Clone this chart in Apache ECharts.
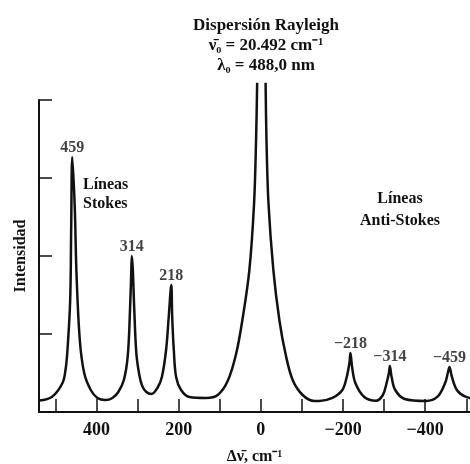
<!DOCTYPE html>
<html>
<head>
<meta charset="utf-8">
<script src="https://cdn.jsdelivr.net/npm/echarts@6/dist/echarts.min.js"></script>
<style>
  html, body { margin: 0; padding: 0; background: #fff; }
  #chart { width: 470px; height: 464px; }
</style>
</head>
<body>
<div id="chart"></div>
<script>
// Raman spectrum: Raman shift (cm^-1) vs. intensity (arbitrary units)
// Stokes side of the trace, from the left edge up to the Rayleigh line
const stokesSide = [
  [540, 0.147], [508, 0.196], [482.8, 0.372], [475.5, 0.538], [470.7, 0.795],
  [464.1, 1.436], [461.7, 2.333], [459, 3.27], [453, 2.628], [448.8, 1.782],
  [440.7, 0.923], [430, 0.5], [414, 0.282], [397.8, 0.18], [378.3, 0.154],
  [361.3, 0.18], [347, 0.256], [333.5, 0.41], [323.8, 0.73], [318.2, 1.35],
  [315.3, 1.82], [314, 2.0], [311.6, 1.82], [308.4, 1.35], [303.1, 0.756],
  [295.8, 0.474], [288.8, 0.333], [278.6, 0.256], [266.4, 0.231], [251.8, 0.308],
  [240.9, 0.449], [230.7, 0.795], [224.3, 1.218], [218, 1.628], [215.8, 1.218],
  [211.9, 0.795], [206.3, 0.449], [194.2, 0.282], [174, 0.192], [133.3, 0.18],
  [105.1, 0.218], [80.8, 0.397], [60.3, 0.744], [45, 1.18], [28, 1.82],
  [16.5, 2.68], [11.5, 3.53], [9, 4.22]
];
// Anti-Stokes side, from the Rayleigh line to the right edge
const antiStokesSide = [
  [-11.5, 4.22], [-13.5, 3.53], [-18.5, 2.68], [-30.4, 1.82], [-45, 1.18],
  [-59.6, 0.756], [-77.4, 0.41], [-101.7, 0.218], [-130.2, 0.141], [-142.3, 0.141],
  [-174, 0.18], [-198.3, 0.282], [-209, 0.449], [-215.5, 0.628], [-218, 0.756],
  [-222, 0.577], [-230, 0.372], [-251.8, 0.192], [-280.3, 0.145], [-297, 0.218],
  [-306, 0.372], [-311.6, 0.5], [-314, 0.59], [-318.2, 0.449], [-327, 0.282],
  [-350, 0.167], [-402, 0.141], [-430, 0.196], [-448.5, 0.372], [-455, 0.5],
  [-459, 0.577], [-464.8, 0.453], [-477, 0.282], [-498, 0.196], [-530, 0.16]
];
// Labelled Raman lines
const peakShifts = [459, 314, 218, -218, -314, -459];
const peakHeights = [3.27, 2.0, 1.628, 0.756, 0.59, 0.577];
// Axis ticks and labels
const xTickValues = [-500, -400, -300, -200, -100, 0, 100, 200, 300, 400, 500];
const xLabelValues = [-400, -200, 0, 200, 400];

const SERIF = '"Liberation Serif", "Times New Roman", serif';
const INK = '#111';
const fmtShift = v => (v < 0 ? '\u2212' + (-v) : String(v));

const chart = echarts.init(document.getElementById('chart'), null, { renderer: 'canvas' });

const traceStyle = {
  type: 'line',
  smooth: 0.35,
  showSymbol: false,
  clip: false,
  lineStyle: { color: INK, width: 2.5 }
};

chart.setOption({
  backgroundColor: '#fff',
  animation: false,
  title: {
    text: 'Dispersión Rayleigh\nν̄₀ = 20.492 cm⁻¹\nλ₀ = 488,0 nm',
    left: 261,
    top: 11,
    textAlign: 'center',
    textStyle: {
      fontFamily: SERIF, fontSize: 17, fontWeight: 'bold', color: INK, lineHeight: 20
    }
  },
  grid: { left: 39, right: 0, top: 100, bottom: 52, containLabel: false, outerBoundsMode: 'none' },
  xAxis: {
    type: 'value',
    inverse: true,
    min: -509,
    max: 540,
    name: 'Δν̄, cm⁻¹',
    nameLocation: 'middle',
    nameGap: 37,
    nameTextStyle: { fontFamily: SERIF, fontSize: 16, fontWeight: 'bold', color: INK },
    axisLine: { show: true, onZero: false, lineStyle: { color: INK, width: 2 } },
    axisTick: { show: true, inside: true, length: 13, customValues: xTickValues,
                lineStyle: { color: INK, width: 1.5 } },
    axisLabel: { show: true, customValues: xLabelValues, margin: 9, formatter: fmtShift,
                 fontFamily: SERIF, fontSize: 18, fontWeight: 'bold', color: INK },
    splitLine: { show: false }
  },
  yAxis: {
    type: 'value',
    min: 0,
    max: 4,
    interval: 1,
    name: 'Intensidad',
    nameLocation: 'middle',
    nameRotate: 90,
    nameGap: 10,
    nameTextStyle: { fontFamily: SERIF, fontSize: 16, fontWeight: 'bold', color: INK },
    axisLine: { show: true, onZero: false, lineStyle: { color: INK, width: 2 } },
    axisTick: { show: true, inside: true, length: 13, lineStyle: { color: INK, width: 1.5 } },
    axisLabel: { show: false },
    splitLine: { show: false }
  },
  series: [
    Object.assign({ name: 'Stokes', data: stokesSide }, traceStyle),
    Object.assign({ name: 'Anti-Stokes', data: antiStokesSide }, traceStyle),
    {
      name: 'Picos',
      type: 'scatter',
      data: peakShifts.map((s, i) => [s, peakHeights[i]]),
      symbolSize: 0,
      clip: false,
      label: {
        show: true,
        position: 'top',
        distance: 1,
        formatter: p => fmtShift(p.value[0]),
        fontFamily: SERIF, fontSize: 16, fontWeight: 'bold', color: INK
      }
    }
  ],
  graphic: [
    {
      type: 'text', left: 83, top: 175,
      style: { text: 'Líneas\nStokes', fontFamily: SERIF, fontSize: 16, fontWeight: 'bold',
               fill: INK, lineHeight: 19, align: 'left' }
    },
    {
      type: 'text', x: 400, y: 188,
      style: { text: 'Líneas\nAnti-Stokes', fontFamily: SERIF, fontSize: 16, fontWeight: 'bold',
               fill: INK, lineHeight: 22, align: 'center', verticalAlign: 'top' }
    }
  ]
});
</script>
</body>
</html>
